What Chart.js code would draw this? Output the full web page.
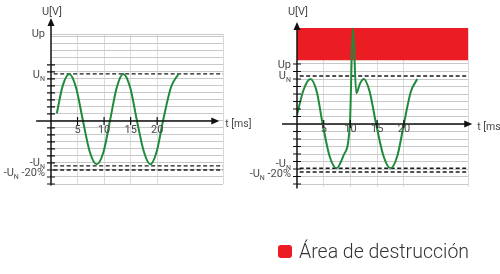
<!DOCTYPE html>
<html>
<head>
<meta charset="utf-8">
<script src="https://cdn.jsdelivr.net/npm/chart.js@4/dist/chart.umd.min.js"></script>
<style>
  body { margin: 0; background: #fff; }
  #wrap { position: relative; width: 500px; height: 274px; overflow: hidden; }
  canvas { position: absolute; top: 0; }
  #leftChart { left: 0; }
  #rightChart { left: 240px; }
  #legend { position: absolute; left: 278px; top: 240px; display: flex; align-items: center;
            font-family: Roboto, sans-serif; font-weight: 300; font-size: 19.5px; color: #333; }
  #legend .box { width: 14px; height: 13px; border-radius: 3px; background: #ec1c24; margin-right: 7px; }
</style>
</head>
<body>
<div id="wrap">
  <canvas id="leftChart" width="270" height="274"></canvas>
  <canvas id="rightChart" width="260" height="274"></canvas>
  <div id="legend"><span class="box"></span><span>Área de destrucción</span></div>
</div>
<script>
const GREEN = '#1e8a3a';
const RED = '#ec1c24';

// left: normal voltage, t in ms
const tLeft = [1.1, 2.2, 3.45, 4.7, 6.0, 7.3, 8.6, 9.9, 11.1, 12.4, 13.6, 14.9, 16.2, 17.5, 18.7, 19.9, 21.1, 22.6, 24.0];
const uLeft = [11, 50, 67, 48, 1, -44, -62, -44, 0, 48, 67, 48, 0, -44, -62, -44, 0, 48, 67];

// right: same wave with a surge around 10 ms
const tRight = [0, 1.2, 2.5, 3.7, 4.8, 6.1, 7.4, 8.7, 9.9, 10.45, 11.1, 11.8, 12.5, 13.6, 14.8, 16.2, 17.5, 18.8, 20.0, 21.3, 22.5];
const uRight = [12, 45, 60, 43, 0, -43, -59, -42, 0, 128, 41, 54, 60, 43, 0, -43, -59, -42, 0, 43, 60];

const levelLabels = ['Up', 'U_N', '-U_N', '-U_N -20%'];
const levelsLeft = [124, 67, -64, -70];
const levelsRight = [79, 64, -59, -64];
const xTickLabels = [5, 10, 15, 20];
const dangerZone = [85, 128];   // bottom / top of the red band (right chart)

function range(a, b, step) {
  const out = [];
  for (let v = a; v <= b; v += step) out.push(v);
  return out;
}

function drawLabel(ctx, text, xRight, y) {
  const parts = text.split('_N');
  ctx.font = '11px Roboto';
  ctx.textBaseline = 'middle';
  ctx.textAlign = 'left';
  if (parts.length === 1) {
    ctx.fillText(text, xRight - ctx.measureText(text).width, y);
    return;
  }
  const w0 = ctx.measureText(parts[0]).width;
  const w1 = ctx.measureText(parts[1]).width;
  ctx.font = '7px Roboto';
  const ws = ctx.measureText('N').width;
  let x = xRight - (w0 + ws + w1);
  ctx.font = '11px Roboto';
  ctx.fillText(parts[0], x, y);
  x += w0;
  ctx.font = '7px Roboto';
  ctx.fillText('N', x, y + 4);
  x += ws;
  ctx.font = '11px Roboto';
  ctx.fillText(parts[1], x, y);
}

function axesPlugin(s) {
  return {
    id: 'axes',
    afterDatasetsDraw(chart) {
      const ctx = chart.ctx;
      const x = chart.scales.x, y = chart.scales.y;
      const ox = x.getPixelForValue(0), oy = y.getPixelForValue(0);
      ctx.save();
      ctx.strokeStyle = '#111';
      ctx.fillStyle = '#111';
      ctx.lineWidth = 1.5;

      // y axis + arrow
      const yTip = y.getPixelForValue(s.yTip);
      ctx.beginPath();
      ctx.moveTo(ox, y.getPixelForValue(s.yFrom));
      ctx.lineTo(ox, yTip + 6);
      ctx.stroke();
      ctx.beginPath();
      ctx.moveTo(ox, yTip);
      ctx.lineTo(ox - 3.5, yTip + 8);
      ctx.lineTo(ox + 3.5, yTip + 8);
      ctx.closePath();
      ctx.fill();

      // x axis + arrow
      const xTip = x.getPixelForValue(s.xTip);
      ctx.beginPath();
      ctx.moveTo(x.getPixelForValue(s.xFrom), oy);
      ctx.lineTo(xTip - 6, oy);
      ctx.stroke();
      ctx.beginPath();
      ctx.moveTo(xTip, oy);
      ctx.lineTo(xTip - 8, oy - 3.5);
      ctx.lineTo(xTip - 8, oy + 3.5);
      ctx.closePath();
      ctx.fill();

      // tick marks
      ctx.lineWidth = 1.2;
      ctx.beginPath();
      s.yTicks.forEach(v => {
        if (v === 0) return;
        const py = y.getPixelForValue(v);
        ctx.moveTo(ox - 4, py);
        ctx.lineTo(ox + 4, py);
      });
      xTickLabels.forEach(v => {
        const px = x.getPixelForValue(v);
        ctx.moveTo(px, oy - 4);
        ctx.lineTo(px, oy + 4);
      });
      ctx.stroke();

      // texts
      ctx.fillStyle = '#4a4a4a';
      ctx.font = '11px Roboto';
      ctx.textBaseline = 'middle';
      ctx.textAlign = 'center';
      xTickLabels.forEach(v => {
        ctx.fillText(String(v), x.getPixelForValue(v), oy + s.xLabelDy);
      });
      ctx.fillText('U[V]', ox + 1, 12);
      ctx.textAlign = 'left';
      ctx.font = '10.5px Roboto';
      ctx.fillText('t [ms]', xTip + s.tDx, oy + 3);

      s.levels.forEach((v, i) => {
        drawLabel(ctx, levelLabels[i], ox - 6, y.getPixelForValue(v) + s.labelDy[i]);
      });
      ctx.restore();
    }
  };
}

function dashed(level, x0, x1) {
  return {
    data: [{x: x0, y: level}, {x: x1, y: level}],
    borderColor: '#1a1a1a',
    borderWidth: 1.3,
    borderDash: [4, 2.5],
    pointRadius: 0,
    fill: false
  };
}

function makeChart(id, s, datasets) {
  return new Chart(document.getElementById(id), {
    type: 'line',
    data: { datasets: datasets },
    options: {
      responsive: false,
      animation: false,
      devicePixelRatio: 1,
      layout: { padding: s.padding },
      plugins: { legend: { display: false }, tooltip: { enabled: false } },
      scales: {
        x: {
          type: 'linear', min: 0, max: s.xMax,
          afterBuildTicks: sc => { sc.ticks = xTickLabels.concat([s.xMax]).map(v => ({value: v})); },
          ticks: { display: false },
          border: { display: false },
          grid: { color: '#dadada', lineWidth: 1, drawTicks: false }
        },
        y: {
          type: 'linear', min: s.yMin, max: s.yMax,
          afterBuildTicks: sc => { sc.ticks = s.yGrid.map(v => ({value: v})); },
          ticks: { display: false },
          border: { display: false },
          grid: { color: '#c8c8c8', lineWidth: 1, drawTicks: false }
        }
      }
    },
    plugins: [axesPlugin(s)]
  });
}

const leftSettings = {
  padding: { left: 51, right: 47, top: 34, bottom: 90 },
  xMax: 32.4, yMin: -90, yMax: 124,
  yGrid: range(-90, 120, 10).concat([124]),
  yTicks: range(-90, 80, 10),
  yFrom: -92, yTip: 147, xFrom: -2.8, xTip: 31.7,
  xLabelDy: 9, tDx: 6,
  levels: levelsLeft, labelDy: [0, 1, -3, 3]
};

const rightSettings = {
  padding: { left: 57, right: 32, top: 28, bottom: 87 },
  xMax: 32, yMin: -84, yMax: 128,
  yGrid: range(-80, 80, 10),
  yTicks: range(-80, 80, 10),
  yFrom: -86, yTip: 136, xFrom: -2.8, xTip: 32.8,
  xLabelDy: 5, tDx: 5,
  levels: levelsRight, labelDy: [0, 0, -4, 2]
};

const waveStyle = { borderColor: GREEN, borderWidth: 2, pointRadius: 0, cubicInterpolationMode: 'monotone', fill: false };

makeChart('leftChart', leftSettings, [
  Object.assign({ data: tLeft.map((t, i) => ({x: t, y: uLeft[i]})) }, waveStyle),
  dashed(levelsLeft[1], 0.5, 32.4),
  dashed(levelsLeft[2], 0.5, 32.4),
  dashed(levelsLeft[3], 0.5, 32.4)
]);

makeChart('rightChart', rightSettings, [
  Object.assign({ data: tRight.map((t, i) => ({x: t, y: uRight[i]})) }, waveStyle),
  dashed(levelsRight[1], 0.5, 32),
  dashed(levelsRight[2], 0.5, 32),
  dashed(levelsRight[3], 0.5, 32),
  {
    data: [{x: 0, y: dangerZone[1]}, {x: 32, y: dangerZone[1]}],
    borderWidth: 0,
    pointRadius: 0,
    backgroundColor: RED,
    fill: { value: dangerZone[0] }
  }
]);
</script>
</body>
</html>
